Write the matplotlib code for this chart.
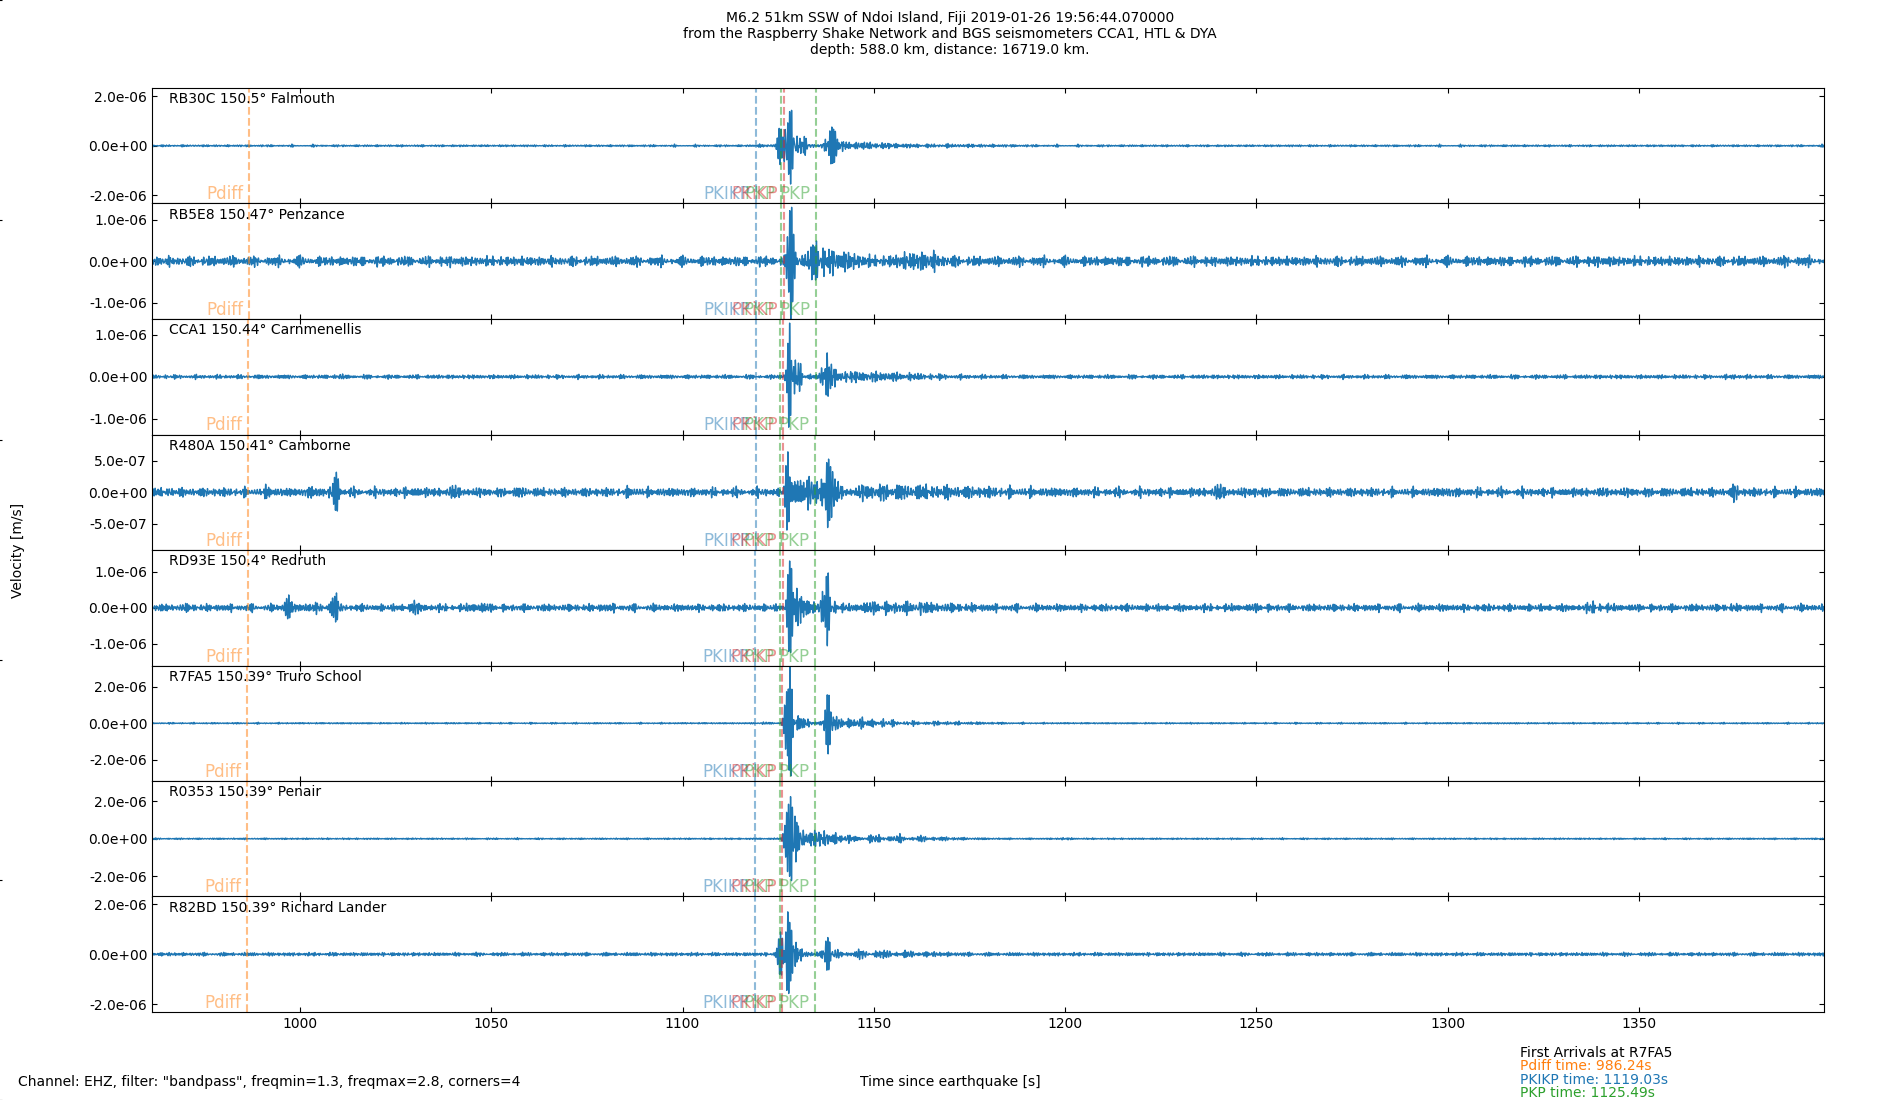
import numpy as np
import matplotlib.pyplot as plt
import matplotlib.transforms as mtransforms
from matplotlib.ticker import FormatStrFormatter, MultipleLocator

# station info, top to bottom
stations = ['RB30C', 'RB5E8', 'CCA1', 'R480A', 'RD93E', 'R7FA5', 'R0353', 'R82BD']
distances = [150.5, 150.47, 150.44, 150.41, 150.4, 150.39, 150.39, 150.39]
places = ['Falmouth', 'Penzance', 'Carnmenellis', 'Camborne', 'Redruth',
          'Truro School', 'Penair', 'Richard Lander']

# y limits and tick steps (m/s)
ylims = [2.34e-6, 1.39e-6, 1.37e-6, 0.91e-6, 1.6e-6, 3.17e-6, 3.06e-6, 2.32e-6]
ysteps = [2e-6, 1e-6, 1e-6, 5e-7, 1e-6, 2e-6, 2e-6, 2e-6]

# arrival times per station (s)
pdiff_t = [986.75, 986.62, 986.5, 986.36, 986.31, 986.24, 986.24, 986.24]
pkikp_t = [1119.2, 1119.17, 1119.12, 1119.07, 1119.05, 1119.03, 1119.03, 1119.03]
pkp_t = [1125.7, 1125.65, 1125.6, 1125.55, 1125.52, 1125.49, 1125.49, 1125.49]
pkikp2_t = [1126.5, 1126.4, 1126.35, 1126.25, 1126.2, 1126.1, 1126.1, 1126.1]
pkp2_t = [1134.9, 1134.85, 1134.8, 1134.75, 1134.7, 1134.6, 1134.6, 1134.6]

# trace read-off (units of 1e-6 m/s): noise band, bursts (t0, amp, rise, decay), big cycles (t0, amp)
noise = [0.05, 0.15, 0.06, 0.09, 0.13, 0.05, 0.05, 0.09]

rb30c_bursts = [(1121, 0.08, 2, 2), (1127, 1.1, 0.6, 4), (1132, 0.35, 2, 2), (1139, 0.65, 2, 2.5),
                (1141, 0.22, 2, 20), (1170, 0.08, 10, 20)]
rb5e8_bursts = [(982, 0.08, 2, 2), (999, 0.12, 1, 1), (1039.5, 0.12, 1, 1), (1127.5, 0.65, 0.8, 4),
                (1135, 0.45, 3, 12), (1162, 0.3, 8, 8), (1340, 0.1, 3, 3), (1390, 0.1, 3, 3)]
cca1_bursts = [(1010, 0.06, 2, 2), (1127.5, 0.7, 0.7, 4), (1138, 0.5, 2, 2.5),
               (1142, 0.17, 3, 25), (1375, 0.08, 1.5, 1.5)]
r480a_bursts = [(966, 0.1, 0.6, 0.6), (992, 0.15, 1.2, 1.2), (1004, 0.1, 3, 3), (1009.5, 0.15, 1, 1),
                (1030, 0.08, 3, 3), (1040, 0.12, 2, 2), (1058, 0.08, 2, 2), (1087, 0.12, 1.5, 1.5),
                (1128, 0.4, 0.8, 10), (1138, 0.4, 2, 3), (1148, 0.15, 3, 40), (1240, 0.15, 2, 2),
                (1250, 0.13, 1, 1), (1300, 0.08, 2, 2), (1375, 0.2, 0.8, 1.2)]
rd93e_bursts = [(970, 0.1, 2, 2), (997, 0.35, 1.2, 1.2), (1003, 0.15, 4, 4), (1009, 0.35, 1.2, 1.2),
                (1030, 0.2, 3, 3), (1047, 0.18, 3, 3), (1080, 0.1, 3, 3), (1128, 0.65, 0.8, 7),
                (1138, 0.5, 2, 3), (1148, 0.2, 3, 30), (1162, 0.3, 1, 1), (1250, 0.1, 3, 3),
                (1339, 0.2, 3, 3), (1374.5, 0.15, 0.8, 0.8)]
r7fa5_bursts = [(1122, 0.08, 2, 2), (1127.5, 1.4, 0.7, 4), (1138, 0.9, 2, 2.5),
                (1141, 0.4, 2, 18), (1165, 0.12, 5, 20), (1170, 0.12, 1, 1)]
r0353_bursts = [(1127.5, 1.4, 0.7, 4.5), (1134, 0.6, 3, 10), (1150, 0.25, 5, 22), (1200, 0.08, 2, 2)]
r82bd_bursts = [(1010, 0.05, 2, 2), (1127, 1.0, 0.6, 4), (1138, 0.55, 2, 2.5), (1145, 0.2, 3, 25)]

rb30c_spikes = [(1125.5, -0.75), (1128.0, 1.76), (1139.0, 0.7)]
rb5e8_spikes = [(1128.25, -1.12), (1135.0, 0.45)]
cca1_spikes = [(1128.0, 1.09), (1137.8, 0.6)]
r480a_spikes = [(1009.5, 0.3), (1127.5, 0.52), (1138.2, 0.63)]
rd93e_spikes = [(997.0, 0.3), (1009.0, 0.35), (1128.0, 1.25), (1137.6, 0.8)]
r7fa5_spikes = [(1127.2, 1.2), (1128.1, 2.45), (1137.8, 1.25)]
r0353_spikes = [(1127.2, 1.2), (1128.2, 2.4), (1129.6, -1.2)]
r82bd_spikes = [(1125.6, 0.9), (1128.0, 1.75), (1138.0, 0.63)]

bursts = [rb30c_bursts, rb5e8_bursts, cca1_bursts, r480a_bursts,
          rd93e_bursts, r7fa5_bursts, r0353_bursts, r82bd_bursts]
spikes = [rb30c_spikes, rb5e8_spikes, cca1_spikes, r480a_spikes,
          rd93e_spikes, r7fa5_spikes, r0353_spikes, r82bd_spikes]

# passband 1.3 - 2.8 Hz
carrier_freqs = [1.31, 1.47, 1.62, 1.83, 1.97, 2.21, 2.38, 2.56, 2.74]

t0, t1 = 961.3, 1398.4
t = np.arange(t0, t1, 0.025)


def make_trace(j):
    k = np.arange(len(carrier_freqs))
    ph = (k * 2.399 + j * 1.9 * (k + 1) ** 1.3) % (2 * np.pi)
    c = np.zeros_like(t)
    for f, p in zip(carrier_freqs, ph):
        c += np.sin(2 * np.pi * f * t + p)
    c /= 3 * np.sqrt(len(carrier_freqs) / 2)
    env2 = np.full_like(t, noise[j] ** 2)
    for tc, a, rise, decay in bursts[j]:
        d = t - tc
        w = np.where(d < 0, rise, decay)
        env2 += (a * np.exp(-(d / w) ** 2)) ** 2
    y = np.sqrt(env2) * c
    for tc, a in spikes[j]:
        d = t - tc
        y += a * np.exp(-(d / 0.8) ** 2) * np.cos(2 * np.pi * 2.0 * d)
    return y * 1e-6


fig, axes = plt.subplots(8, 1, sharex=True, figsize=(19, 11), dpi=100)
fig.subplots_adjust(left=0.08, right=0.96, top=0.92, bottom=0.08, hspace=0)

phases = [('Pdiff', pdiff_t, 'C1'), ('PKIKP', pkikp_t, 'C0'), ('PKP', pkp_t, 'C2'),
          ('PKiKP', pkikp2_t, 'C3'), ('PKP', pkp2_t, 'C2')]

for j, ax in enumerate(axes):
    ax.plot(t, make_trace(j), color='C0', lw=1.0)
    ax.set_ylim(-ylims[j], ylims[j])
    ax.set_yticks([-ysteps[j], 0, ysteps[j]])
    ax.yaxis.set_major_formatter(FormatStrFormatter('%.1e'))
    ax.tick_params(direction='in', top=True, right=True, labelsize=10)
    ax.text(0.01, 0.965, '%s %s° %s' % (stations[j], distances[j], places[j]),
            transform=ax.transAxes, va='top', fontsize=10)
    trans = mtransforms.blended_transform_factory(ax.transData, ax.transAxes)
    for name, times, col in phases:
        ax.axvline(times[j], color=col, ls='--', lw=1.5, alpha=0.5)
        ax.text(times[j] - 1.5, 0.0, name, transform=trans, ha='right', va='bottom',
                color=col, alpha=0.5, fontsize=12)

axes[-1].set_xlim(t0, t1)
axes[-1].xaxis.set_major_locator(MultipleLocator(50))

# full-figure helper axes (leaves small marks at the left edge)
ov = fig.add_axes([0, 0, 1, 1], frameon=False)
ov.set_xticks([])
ov.tick_params(axis='y', direction='inout', labelleft=False)
ov.patch.set_alpha(0)

fig.suptitle('M6.2 51km SSW of Ndoi Island, Fiji 2019-01-26 19:56:44.070000\n'
             'from the Raspberry Shake Network and BGS seismometers CCA1, HTL & DYA\n'
             'depth: 588.0 km, distance: 16719.0 km.', fontsize=10, y=0.99)
fig.text(0.0095, 0.5, 'Velocity [m/s]', rotation=90, va='center', ha='center', fontsize=10)
fig.text(0.5, 0.0125, 'Time since earthquake [s]', ha='center', fontsize=10)
fig.text(0.0095, 0.0125, 'Channel: EHZ, filter: "bandpass", freqmin=1.3, freqmax=2.8, corners=4',
         fontsize=10)
fig.text(0.8, 0.039, 'First Arrivals at R7FA5', fontsize=10)
fig.text(0.8, 0.027, 'Pdiff time: 986.24s', color='C1', fontsize=10)
fig.text(0.8, 0.015, 'PKIKP time: 1119.03s', color='C0', fontsize=10)
fig.text(0.8, 0.003, 'PKP time: 1125.49s', color='C2', fontsize=10)

fig.savefig('out.png')
